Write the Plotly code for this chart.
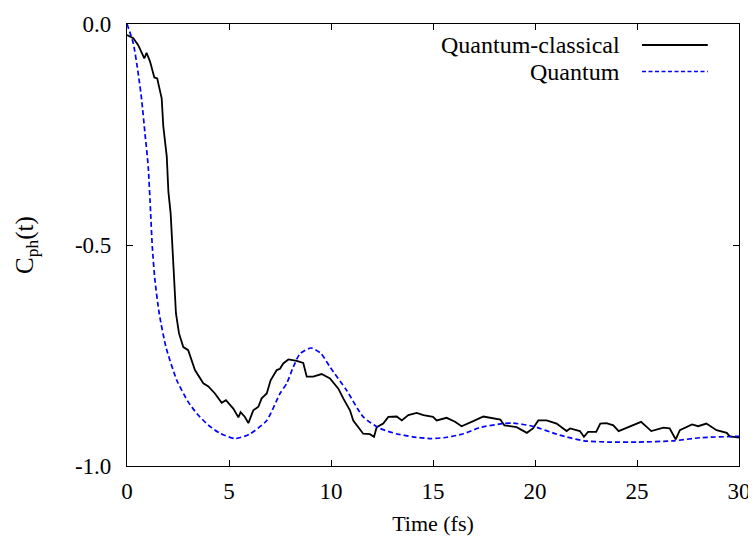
import plotly.graph_objects as go

# Quantum-classical (solid black)
t_qc = [0, 0.31, 0.55, 0.85, 0.96, 1.13, 1.34, 1.48, 1.7, 1.78, 1.95, 2.03, 2.14, 2.27, 2.4,
        2.55, 2.76, 3.0, 3.33, 3.74, 3.99, 4.31, 4.64, 4.85, 5.21, 5.46, 5.57, 5.78, 5.95,
        6.19, 6.44, 6.6, 6.85, 7.04, 7.34, 7.5, 7.66, 7.91, 8.32, 8.64, 8.81, 9.13, 9.54,
        9.95, 10.36, 10.6, 10.93, 11.09, 11.34, 11.58, 11.91, 12.11, 12.24, 12.56, 12.81,
        13.22, 13.47, 13.79, 14.2, 14.53, 15.0, 15.18, 15.67, 16.08, 16.4, 16.73, 17.0,
        17.47, 17.95, 18.3, 18.5, 19.1, 19.6, 19.9, 20.16, 20.57, 21.06, 21.55, 21.72,
        22.2, 22.4, 22.6, 23.0, 23.2, 23.5, 23.84, 24.1, 24.66, 25.2, 25.7, 26.3, 26.6,
        26.9, 27.1, 27.7, 28.0, 28.4, 28.9, 29.4, 29.55, 30.0]
c_qc = [-0.025, -0.032, -0.048, -0.078, -0.065, -0.085, -0.121, -0.123, -0.168, -0.232,
        -0.300, -0.38, -0.429, -0.542, -0.655, -0.700, -0.731, -0.738, -0.783, -0.813,
        -0.820, -0.836, -0.857, -0.851, -0.870, -0.890, -0.878, -0.889, -0.903, -0.874,
        -0.866, -0.847, -0.836, -0.806, -0.783, -0.780, -0.768, -0.759, -0.762, -0.767,
        -0.798, -0.798, -0.792, -0.802, -0.825, -0.847, -0.874, -0.897, -0.912, -0.927,
        -0.928, -0.934, -0.912, -0.904, -0.889, -0.888, -0.897, -0.885, -0.880, -0.885,
        -0.889, -0.897, -0.891, -0.900, -0.910, -0.904, -0.898, -0.888, -0.893, -0.895,
        -0.908, -0.912, -0.925, -0.915, -0.897, -0.897, -0.904, -0.921, -0.915, -0.921,
        -0.934, -0.923, -0.923, -0.904, -0.903, -0.908, -0.921, -0.910, -0.900, -0.921,
        -0.913, -0.915, -0.940, -0.919, -0.906, -0.910, -0.904, -0.919, -0.925, -0.933,
        -0.936]

# Quantum (dashed blue)
t_q = [0, 0.31, 0.55, 0.72, 0.88, 1.04, 1.16, 1.24, 1.37, 1.58, 1.91, 2.44, 3.0, 3.42,
       4.0, 4.56, 5.29, 6.0, 6.85, 7.5, 7.83, 8.15, 8.48, 9.02, 9.5, 9.95, 10.77, 11.58,
       12.4, 13.2, 14.0, 14.9, 15.7, 16.5, 17.3, 18.45, 18.9, 19.9, 21.2, 22.4, 23.7,
       25.0, 26.8, 28.1, 29.9, 30.0]
c_q = [0, -0.044, -0.112, -0.172, -0.247, -0.323, -0.429, -0.504, -0.580, -0.655, -0.731,
       -0.806, -0.855, -0.881, -0.908, -0.926, -0.938, -0.928, -0.897, -0.836, -0.813,
       -0.776, -0.746, -0.733, -0.745, -0.776, -0.829, -0.889, -0.915, -0.927, -0.934,
       -0.938, -0.935, -0.927, -0.913, -0.904, -0.903, -0.910, -0.930, -0.943, -0.946,
       -0.946, -0.943, -0.936, -0.933, -0.933]

x_ticks = [0, 5, 10, 15, 20, 25, 30]
y_ticks = [-1.0, -0.5, 0.0]
y_ticktext = ["-1.0", "-0.5", "0.0"]
legend_names = ["Quantum-classical", "Quantum"]

FONT = "Liberation Serif, Times New Roman, serif"

fig = go.Figure()
fig.add_trace(go.Scatter(x=t_qc, y=c_qc, mode="lines", name=legend_names[0],
                         line=dict(color="black", width=1.8), showlegend=False))
fig.add_trace(go.Scatter(x=t_q, y=c_q, mode="lines", name=legend_names[1],
                         line=dict(color="#0000ff", width=1.7, dash="5px,3px",
                                   shape="spline", smoothing=0.6),
                         showlegend=False))

# gnuplot-style legend (text right, sample line right of text)
legend_y = [0.9525, 0.8925]
styles = [dict(color="black", width=1.8), dict(color="#0000ff", width=1.5, dash="4px,2.5px")]
for name, yy, st in zip(legend_names, legend_y, styles):
    fig.add_annotation(x=0.809, y=yy, xref="paper", yref="paper", text=name,
                       showarrow=False, xanchor="right", yanchor="middle",
                       font=dict(family=FONT, size=24, color="black"))
    fig.add_shape(type="line", xref="paper", yref="paper", x0=0.8415, x1=0.949,
                  y0=yy, y1=yy, line=st)

fig.update_xaxes(range=[0, 30], tickvals=x_ticks, ticks="inside", ticklen=6,
                 tickcolor="black", showline=True, linecolor="black", linewidth=1.2,
                 mirror="allticks", showgrid=False, zeroline=False, automargin=False,
                 ticklabelstandoff=4,
                 title=dict(text="Time (fs)", font=dict(family=FONT, size=22), standoff=12),
                 tickfont=dict(family=FONT, size=23, color="black"))
fig.update_yaxes(range=[-1, 0], tickvals=y_ticks, ticktext=y_ticktext, ticks="inside",
                 ticklen=6, tickcolor="black", showline=True, linecolor="black",
                 linewidth=1.2, mirror="allticks", showgrid=False, zeroline=False,
                 ticklabelstandoff=10, automargin=False,
                 title=dict(text="C<sub>ph</sub>(t)", font=dict(family=FONT, size=25),
                            standoff=34),
                 tickfont=dict(family=FONT, size=23, color="black"))

# page body adds an 8px offset; compensate so the plot lands where the reference has it
fig.update_layout(width=748, height=532, plot_bgcolor="white", paper_bgcolor="white",
                  margin=dict(l=119, r=17, t=16, b=74),
                  font=dict(family=FONT, color="black"))

fig.write_html("out.html")
